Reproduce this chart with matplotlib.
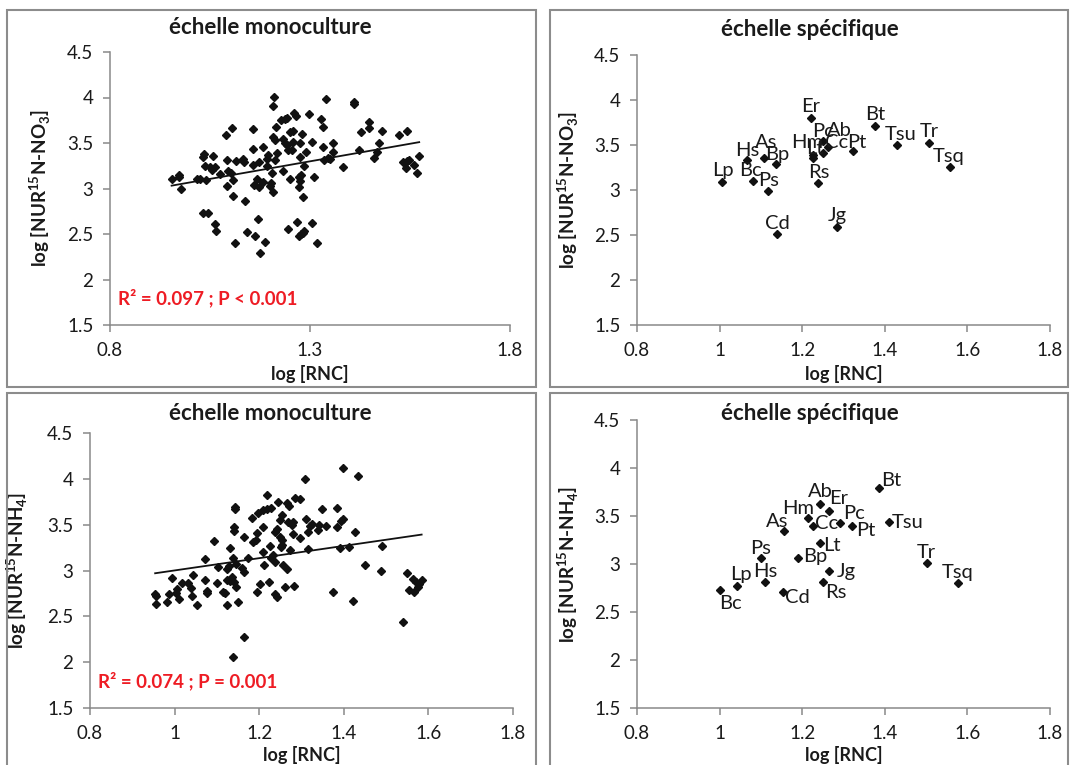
import matplotlib
matplotlib.use('Agg')
import matplotlib.pyplot as plt
from matplotlib.patches import Rectangle
from matplotlib.ticker import FuncFormatter
import numpy as np

plt.rcParams['font.family'] = ['Lato', 'DejaVu Sans']
plt.rcParams['mathtext.fontset'] = 'custom'
plt.rcParams['mathtext.rm'] = 'Lato'
plt.rcParams['mathtext.bf'] = 'Lato:bold'

# monoculture scale, NUR 15N-NO3
mono_no3_rnc = [0.954, 0.973, 0.973, 0.978, 1.017, 1.025, 1.040, 1.036, 1.032, 1.058,
                1.037, 1.050, 1.056, 1.063, 1.075, 1.090, 1.106, 1.093, 1.115, 1.133,
                1.135, 1.096, 1.102, 1.108, 1.092, 1.107, 1.137, 1.157, 1.158, 1.183,
                1.173, 1.157, 1.167, 1.161, 1.173, 1.182, 1.196, 1.192, 1.217, 1.212,
                1.204, 1.202, 1.200, 1.208, 1.192, 1.210, 1.208, 1.227, 1.237, 1.242,
                1.260, 1.264, 1.298, 1.328, 1.332, 1.341, 1.215, 1.208, 1.212, 1.233,
                1.237, 1.242, 1.250, 1.257, 1.246, 1.254, 1.258, 1.275, 1.279, 1.290,
                1.304, 1.275, 1.285, 1.233, 1.250, 1.273, 1.275, 1.273, 1.278, 1.283,
                1.310, 1.332, 1.335, 1.344, 1.032, 1.044, 1.063, 1.065, 1.112, 1.143,
                1.163, 1.171, 1.188, 1.175, 1.246, 1.267, 1.273, 1.278, 1.283, 1.285,
                1.306, 1.317, 1.411, 1.411, 1.448, 1.448, 1.428, 1.479, 1.523, 1.542,
                1.472, 1.467, 1.460, 1.422, 1.358, 1.358, 1.383, 1.350, 1.542, 1.547,
                1.537, 1.540, 1.561, 1.567, 1.573, 1.533]
mono_no3_nur = [3.100, 3.148, 3.122, 2.994, 3.100, 3.100, 3.093, 3.379, 3.342, 3.357,
                3.247, 3.232, 3.203, 3.232, 3.159, 3.588, 3.661, 3.313, 3.306, 3.320,
                3.295, 3.196, 3.174, 3.093, 3.027, 2.921, 2.862, 3.650, 3.430, 3.459,
                3.295, 3.258, 3.100, 3.042, 3.012, 3.075, 3.368, 3.320, 3.386, 3.313,
                3.166, 3.056, 3.027, 2.965, 3.247, 4.009, 3.906, 3.752, 3.760, 3.771,
                3.826, 3.796, 3.815, 3.760, 3.679, 3.983, 3.679, 3.562, 3.533, 3.540,
                3.496, 3.478, 3.624, 3.635, 3.423, 3.423, 3.514, 3.496, 3.599, 3.404,
                3.514, 3.350, 3.247, 3.196, 3.104, 3.130, 3.082, 3.020, 3.148, 2.910,
                3.122, 3.459, 3.313, 3.331, 2.727, 2.727, 2.610, 2.533, 2.397, 2.525,
                2.478, 2.661, 2.415, 2.287, 2.555, 2.635, 2.481, 2.500, 2.514, 2.533,
                2.624, 2.404, 3.954, 3.928, 3.727, 3.668, 3.624, 3.631, 3.584, 3.631,
                3.496, 3.404, 3.331, 3.423, 3.496, 3.404, 3.232, 3.324, 3.306, 3.313,
                3.276, 3.221, 3.258, 3.166, 3.357, 3.295]

# monoculture scale, NUR 15N-NH4
mono_nh4_rnc = [0.954, 0.955, 0.955, 0.981, 0.987, 0.993, 1.003, 1.011, 1.006, 1.017,
                1.032, 1.038, 1.040, 1.043, 1.052, 1.072, 1.076, 1.076, 1.072, 1.092,
                1.102, 1.101, 1.115, 1.119, 1.125, 1.123, 1.131, 1.135, 1.141, 1.144,
                1.151, 1.125, 1.129, 1.131, 1.139, 1.144, 1.143, 1.143, 1.140, 1.141,
                1.163, 1.159, 1.165, 1.163, 1.137, 1.174, 1.182, 1.194, 1.186, 1.192,
                1.196, 1.210, 1.218, 1.229, 1.218, 1.210, 1.208, 1.212, 1.194, 1.203,
                1.223, 1.226, 1.233, 1.237, 1.229, 1.241, 1.237, 1.245, 1.241, 1.237,
                1.249, 1.253, 1.255, 1.251, 1.253, 1.249, 1.257, 1.265, 1.261, 1.265,
                1.271, 1.269, 1.277, 1.281, 1.273, 1.279, 1.283, 1.285, 1.296, 1.296,
                1.308, 1.311, 1.316, 1.316, 1.320, 1.326, 1.340, 1.342, 1.397, 1.433,
                1.348, 1.385, 1.358, 1.385, 1.393, 1.399, 1.427, 1.391, 1.413, 1.490,
                1.450, 1.487, 1.374, 1.421, 1.549, 1.564, 1.570, 1.578, 1.584, 1.576,
                1.567, 1.553, 1.541]
mono_nh4_nur = [2.743, 2.721, 2.633, 2.659, 2.739, 2.914, 2.757, 2.684, 2.794, 2.859,
                2.859, 2.812, 2.724, 2.946, 2.623, 2.895, 2.750, 2.779, 3.124, 3.321,
                3.041, 2.859, 2.768, 2.750, 2.623, 2.895, 2.884, 2.932, 2.877, 2.823,
                2.652, 3.012, 3.048, 3.241, 3.132, 3.066, 3.695, 3.666, 3.477, 3.430,
                3.368, 3.023, 2.986, 2.277, 2.059, 3.132, 3.568, 3.404, 3.313, 3.332,
                3.630, 3.659, 3.666, 3.684, 3.822, 3.470, 3.204, 3.059, 2.768, 2.848,
                2.870, 3.266, 3.168, 3.095, 3.132, 3.452, 3.423, 3.750, 2.713, 2.742,
                3.368, 3.332, 3.277, 3.259, 3.604, 3.550, 3.059, 3.012, 2.823, 3.732,
                3.703, 3.532, 3.495, 3.532, 3.223, 3.397, 2.830, 3.786, 3.775, 3.350,
                3.993, 3.557, 3.423, 3.233, 3.484, 3.506, 3.441, 3.495, 4.114, 4.030,
                3.670, 3.677, 3.484, 3.470, 3.543, 3.561, 3.415, 3.241, 3.252, 3.266,
                3.059, 2.997, 2.768, 2.670, 2.968, 2.903, 2.877, 2.852, 2.895, 2.815,
                2.768, 2.786, 2.441]

# species scale, NUR 15N-NO3
species_no3 = ['Lp', 'Hs', 'As', 'Bp', 'Bc', 'Ps', 'Cd', 'Er', 'Pc', 'Ab',
               'Cc', 'Pt', 'Hm', 'Lt', 'Rs', 'Jg', 'Bt', 'Tsu', 'Tr', 'Tsq']
spec_no3_rnc = [1.005, 1.067, 1.108, 1.137, 1.082, 1.118, 1.138, 1.221, 1.250, 1.262,
                1.251, 1.323, 1.227, 1.227, 1.238, 1.285, 1.376, 1.429, 1.507, 1.558]
spec_no3_nur = [3.092, 3.333, 3.352, 3.285, 3.100, 2.989, 2.511, 3.803, 3.544, 3.481,
                3.414, 3.433, 3.389, 3.352, 3.074, 2.592, 3.715, 3.500, 3.526, 3.256]

# species scale, NUR 15N-NH4
species_nh4 = ['Bc', 'Lp', 'Hs', 'Ps', 'As', 'Cd', 'Bp', 'Lt', 'Jg', 'Rs',
               'Hm', 'Cc', 'Ab', 'Er', 'Pc', 'Pt', 'Bt', 'Tsu', 'Tr', 'Tsq']
spec_nh4_rnc = [1.001, 1.041, 1.110, 1.100, 1.156, 1.153, 1.191, 1.243, 1.266, 1.250,
                1.215, 1.225, 1.243, 1.266, 1.292, 1.321, 1.387, 1.411, 1.501, 1.578]
spec_nh4_nur = [2.729, 2.774, 2.816, 3.059, 3.343, 2.711, 3.059, 3.222, 2.930, 2.816,
                3.475, 3.399, 3.621, 3.555, 3.430, 3.399, 3.788, 3.434, 3.007, 2.798]

stats_no3 = 'R² = 0.097 ; P < 0.001'
stats_nh4 = 'R² = 0.074 ; P = 0.001'

# label offsets in pixels (dx, dy)
offs_no3 = {'Lp': (1, 11), 'Hs': (0, 10), 'As': (2, 16), 'Bp': (1, 10), 'Bc': (-3, 10),
            'Ps': (0, 10), 'Cd': (1, 11), 'Er': (0, 11), 'Pc': (0, 10), 'Ab': (12, 16),
            'Cc': (13, 10), 'Pt': (4, 9), 'Hm': (-6, 12), 'Lt': (2, 10), 'Rs': (1, 11),
            'Jg': (0, 11), 'Bt': (0, 11), 'Tsu': (4, 11), 'Tr': (0, 11), 'Tsq': (-1, 10)}
offs_nh4 = {'Bc': (10, -13), 'Lp': (4, 11), 'Hs': (0, 10), 'Ps': (0, 10), 'As': (-7, 10),
            'Cd': (15, -6), 'Bp': (17, 2), 'Lt': (12, -3), 'Jg': (17, -1), 'Rs': (13, -11),
            'Hm': (-10, 10), 'Cc': (14, 2), 'Ab': (0, 13), 'Er': (9, 12), 'Pc': (14, 9),
            'Pt': (14, -5), 'Bt': (12, 8), 'Tsu': (18, 0), 'Tr': (0, 11), 'Tsq': (-1, 11)}

W, H = 1071, 765
GREY = '#898989'
TXT = '#1a1a1a'


def px_rect(x0, y0, x1, y1):
    return [x0 / W, 1 - y1 / H, (x1 - x0) / W, (y1 - y0) / H]


def style_axes(ax, xticks, ylab, ylab_x, xlab_y):
    ax.set_xlim(0.8, 1.8)
    ax.set_ylim(1.5, 4.5)
    ax.set_xticks(xticks)
    ax.set_yticks(np.arange(1.5, 4.51, 0.5))
    fmt = FuncFormatter(lambda v, p: f'{v:g}')
    ax.xaxis.set_major_formatter(fmt)
    ax.yaxis.set_major_formatter(fmt)
    for s in ['top', 'right']:
        ax.spines[s].set_visible(False)
    for s in ['left', 'bottom']:
        ax.spines[s].set_color(GREY)
        ax.spines[s].set_linewidth(1.1)
    ax.tick_params(direction='out', length=5, width=1.1, color=GREY,
                   labelsize=13.5, labelcolor=TXT, pad=7)
    ax.set_xlabel('log [RNC]', fontsize=13, fontweight='bold', color=TXT)
    ax.set_ylabel(ylab, fontsize=13.5, fontweight='bold', color=TXT)
    ax.xaxis.set_label_coords(0.5, xlab_y)
    ax.yaxis.set_label_coords(ylab_x, 0.5)
    ax.patch.set_alpha(0)


def mono_panel(ax, x, y, stats):
    ax.plot(x, y, 'D', color='#111111', markersize=4.5, zorder=3)
    slope, inter = np.polyfit(x, y, 1)
    xx = np.array([min(x), max(x)])
    ax.plot(xx, inter + slope * xx, color='#111111', lw=1.3, zorder=4)
    ax.text(0.02, 0.1, stats, transform=ax.transAxes, color='#ee1c24',
            fontsize=13.5, fontweight='bold', va='center')


def spec_panel(ax, names, x, y, offs):
    ax.plot(x, y, 'D', color='#111111', markersize=4, zorder=3)
    for n, xv, yv in zip(names, x, y):
        dx, dy = offs[n]
        ax.annotate(n, (xv, yv), xytext=(dx, dy), textcoords='offset pixels',
                    ha='center', va='center', fontsize=14.5, color=TXT)


fig = plt.figure(figsize=(W / 100, H / 100), dpi=100)

lab_no3 = r'log [NUR$^{\mathbf{15}}$N-NO$_{\mathbf{3}}$]'
lab_nh4 = r'log [NUR$^{\mathbf{15}}$N-NH$_{\mathbf{4}}$]'

ax1 = fig.add_axes(px_rect(110, 52, 510, 325))
mono_panel(ax1, mono_no3_rnc, mono_no3_nur, stats_no3)
style_axes(ax1, [0.8, 1.3, 1.8], lab_no3, -0.1425, -0.145)

ax2 = fig.add_axes(px_rect(637, 55, 1050, 325))
spec_panel(ax2, species_no3, spec_no3_rnc, spec_no3_nur, offs_no3)
style_axes(ax2, np.arange(0.8, 1.81, 0.2), lab_no3, -0.1356, -0.148)

ax3 = fig.add_axes(px_rect(90, 433, 513, 708))
mono_panel(ax3, mono_nh4_rnc, mono_nh4_nur, stats_nh4)
style_axes(ax3, np.arange(0.8, 1.81, 0.2), lab_nh4, -0.142, -0.138)

ax4 = fig.add_axes(px_rect(637, 420, 1050, 708))
spec_panel(ax4, species_nh4, spec_nh4_rnc, spec_nh4_nur, offs_nh4)
style_axes(ax4, np.arange(0.8, 1.81, 0.2), lab_nh4, -0.1356, -0.132)

titles = [('échelle monoculture', 270, 28), ('échelle spécifique', 810, 30),
          ('échelle monoculture', 270, 413), ('échelle spécifique', 810, 413)]
for t, x, y in titles:
    fig.text(x / W, 1 - y / H, t, ha='center', va='center', fontsize=16,
             fontweight='bold', color=TXT)

for x0, y0, x1, y1 in [(7, 10, 536, 387), (550, 10, 1068, 387),
                       (7, 393, 536, 770), (550, 393, 1068, 770)]:
    fig.patches.append(Rectangle((x0 / W, 1 - y1 / H), (x1 - x0) / W, (y1 - y0) / H,
                                 transform=fig.transFigure, fill=False,
                                 edgecolor='#8c8c8c', lw=1.5))

fig.savefig('out.png', dpi=100, facecolor='white')
